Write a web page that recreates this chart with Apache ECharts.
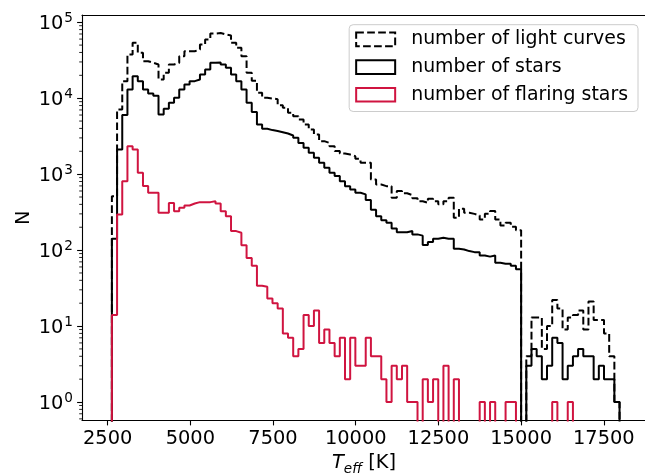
<!DOCTYPE html>
<html><head><meta charset="utf-8">
<script src="https://cdn.jsdelivr.net/npm/echarts@6/dist/echarts.min.js"></script>
<style>html,body{margin:0;padding:0;background:#fff}#c{width:645px;height:474px}</style>
</head><body><div id="c"></div>
<script>
// Histogram bins (K)
const binStart = 2628.6;
const binWidth = 156.6;
const seriesNames = ['number of light curves', 'number of stars', 'number of flaring stars'];
const lightCurves = [
 510, 7100, 16750, 37600, 53600, 39560, 30690, 29240, 27750, 17620,
 21590, 27750, 29240, 35700, 41500, 41500, 43700, 50900, 59200, 71000,
 72000, 68900, 66800, 53600, 46000, 35700, 21590, 17000, 11780, 10120,
 9900, 9700, 8050, 7480, 6430, 5800, 5250, 4510, 3870, 3330,
 2720, 2580, 2335, 2010, 1870, 1815, 1725, 1590, 1413, 1413,
 851, 731, 695, 695, 489, 598, 560, 530, 480, 440,
 420, 474, 441, 400, 441, 490, 267, 351, 311, 300,
 286, 253, 300, 326, 253, 211, 229, 203, 183, 0,
 4, 13, 13, 5, 10, 22, 17, 9, 13, 14,
 16, 9, 21, 12, 12, 8, 4, 1
];
const stars = [
 141, 2113, 6000, 13010, 19480, 16750, 13010, 11500, 10800, 6105,
 7250, 8690, 10120, 13010, 15140, 16750, 17620, 20500, 23860, 29240,
 29600, 27750, 25140, 20500, 16750, 13010, 8690, 6600, 4508, 3960,
 3800, 3700, 3570, 3430, 3230, 3010, 2580, 2225, 1910, 1643,
 1413, 1214, 1043, 944, 809, 695, 628, 569, 541, 455,
 340, 280, 247, 229, 193, 172, 172, 178, 161, 155,
 117, 128, 141, 145, 141, 141, 104, 102, 97, 94,
 94, 85, 82, 85, 68, 66, 66, 62, 56, 0,
 3, 5, 4, 2, 3, 7, 6, 2, 3, 4,
 5, 4, 4, 2, 3, 2, 2, 1
];
const flaringStars = [
 14, 295, 809, 2335, 2113, 1043, 696, 569, 569, 310,
 310, 418, 325, 360, 386, 410, 428, 428, 428, 441,
 410, 325, 280, 178, 169, 116, 79, 62, 34, 33,
 23, 20, 17, 8, 7, 4, 5, 14, 10, 16,
 6, 9, 6, 4, 7, 2, 7, 3, 3, 7,
 4, 4, 2, 1, 3, 2, 3, 1, 1, 0,
 2, 1, 2, 0, 3, 0, 2, 0, 0, 0,
 0, 1, 0, 1, 0, 0, 1, 1, 0, 0,
 0, 0, 0, 0, 0, 1, 0, 0, 1, 0,
 0, 0, 0, 0, 0, 0, 0, 0
];
const xTicks = [2500, 5000, 7500, 10000, 12500, 15000, 17500];
const yTicks = [1, 10, 100, 1000, 10000, 100000];

const X_MIN = 1725, X_MAX = 18775, Y_MIN = 0.571, Y_MAX = 124500, FLOOR = 0.01;
const FONT = 'DejaVu Sans';
const FS = 19.4;
const RED = '#d01440';

function stepPoints(vals) {
  const pts = [[binStart, FLOOR]];
  vals.forEach((v, i) => pts.push([binStart + i * binWidth, v > 0 ? v : FLOOR]));
  pts.push([binStart + vals.length * binWidth, FLOOR]);
  return pts;
}
const minorVals = [];
for (let k = -1; k <= 5; k++) for (let m = 2; m <= 9; m++) {
  const v = m * Math.pow(10, k);
  if (v >= Y_MIN && v <= Y_MAX) minorVals.push(v);
}

const chart = echarts.init(document.getElementById('c'), null, {renderer: 'canvas'});
chart.setOption({
  animation: false,
  backgroundColor: '#fff',
  grid: {left: 82, top: 15, width: 564, height: 405.5, outerBoundsMode: 'none', containLabel: false},
  xAxis: [{
    type: 'value', min: X_MIN, max: X_MAX,
    axisLine: {onZero: false, lineStyle: {color: '#000', width: 1.1}},
    axisTick: {customValues: xTicks, length: 4.9, lineStyle: {color: '#000', width: 1.1}},
    axisLabel: {customValues: xTicks, margin: 9, fontFamily: FONT, fontSize: FS, color: '#000',
      formatter: v => String(Math.round(v))},
    splitLine: {show: false},
    name: '{t|T}{e|eff}{k| [K]}', nameLocation: 'middle', nameGap: 30,
    nameTextStyle: {
      color: '#000', fontFamily: FONT, fontSize: FS,
      rich: {
        t: {fontFamily: FONT, fontSize: FS, fontStyle: 'italic', color: '#000', verticalAlign: 'top'},
        e: {fontFamily: FONT, fontSize: 13.6, fontStyle: 'italic', color: '#000', verticalAlign: 'top', padding: [9, 0, 0, 0]},
        k: {fontFamily: FONT, fontSize: FS, color: '#000', verticalAlign: 'top'}
      }
    }
  }, {
    type: 'value', position: 'top', min: X_MIN, max: X_MAX,
    axisLine: {onZero: false, lineStyle: {color: '#000', width: 1.1}},
    axisTick: {show: false}, axisLabel: {show: false}, splitLine: {show: false}
  }],
  yAxis: {
    type: 'log', logBase: 10, min: Y_MIN, max: Y_MAX,
    axisLine: {show: true, onZero: false, lineStyle: {color: '#000', width: 1.1}},
    axisTick: {show: true, customValues: yTicks, length: 4.9, lineStyle: {color: '#000', width: 1.1}},
    axisLabel: {
      customValues: yTicks, margin: 9,
      formatter: v => '{b|10}{s|' + Math.round(Math.log10(v)) + '}',
      rich: {
        b: {fontFamily: FONT, fontSize: FS, color: '#000', verticalAlign: 'bottom'},
        s: {fontFamily: FONT, fontSize: 13.6, color: '#000', verticalAlign: 'bottom', padding: [0, 0, 8, 1]}
      }
    },
    splitLine: {show: false},
    name: 'N', nameLocation: 'middle', nameGap: 49, nameMoveOverlap: false,
    nameTextStyle: {fontFamily: FONT, fontSize: FS, color: '#000'}
  },
  legend: {
    orient: 'vertical', right: 7, top: 24.7,
    itemWidth: 39, itemHeight: 13.6, itemGap: 8.3,
    padding: [5, 10, 7, 6],
    backgroundColor: 'rgba(255,255,255,0.8)', borderColor: '#cccccc', borderWidth: 1, borderRadius: 4,
    textStyle: {fontFamily: FONT, fontSize: 18.9, color: '#000', lineHeight: 19.4, padding: [0, 0, 0, 11]},
    data: [
      {name: seriesNames[0], icon: 'rect', itemStyle: {color: 'rgba(0,0,0,0)', borderColor: '#000', borderWidth: 2, borderType: [7.7, 3.3]}},
      {name: seriesNames[1], icon: 'rect', itemStyle: {color: 'rgba(0,0,0,0)', borderColor: '#000', borderWidth: 2}},
      {name: seriesNames[2], icon: 'rect', itemStyle: {color: 'rgba(0,0,0,0)', borderColor: RED, borderWidth: 2}}
    ]
  },
  series: [
    {name: seriesNames[0], type: 'line', step: 'end', data: stepPoints(lightCurves), symbol: 'none', showSymbol: false,
      lineStyle: {color: '#000', width: 2, type: [7.7, 3.3]}, itemStyle: {color: '#000'}, clip: true, z: 2},
    {name: seriesNames[1], type: 'line', step: 'end', data: stepPoints(stars), symbol: 'none', showSymbol: false,
      lineStyle: {color: '#000', width: 2}, itemStyle: {color: '#000'}, clip: true, z: 3},
    {name: seriesNames[2], type: 'line', step: 'end', data: stepPoints(flaringStars), symbol: 'none', showSymbol: false,
      lineStyle: {color: RED, width: 2}, itemStyle: {color: RED}, clip: true, z: 4},
    {type: 'custom', silent: true, clip: false, z: 10,
      data: minorVals.map(v => [X_MIN, v]),
      renderItem: (params, api) => {
        const p = api.coord([api.value(0), api.value(1)]);
        return {type: 'line', shape: {x1: p[0] - 2.8, y1: p[1], x2: p[0], y2: p[1]}, style: {stroke: '#000', lineWidth: 0.85}};
      }}
  ]
});
</script></body></html>
